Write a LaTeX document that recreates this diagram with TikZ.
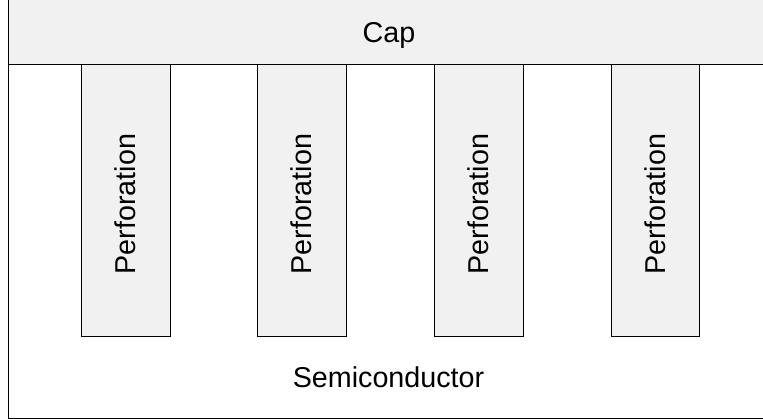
\documentclass[tikz,border=0pt]{standalone}
\usepackage{fontspec}
\setmainfont{Liberation Sans}
\definecolor{boxfill}{HTML}{F1F1F1}
\begin{document}
\begin{tikzpicture}[x=1pt,y=-1pt,
  layer/.style={draw=black,line width=1pt},
  perfbox/.style={draw=black,line width=1pt,fill=boxfill},
  lbl/.style={font=\fontsize{28.7}{34}\selectfont,inner sep=0pt}]
\useasboundingbox (0,0) rectangle (763,419);
\clip (0,0) rectangle (763,419);
% semiconductor body
\draw[layer,fill=white] (8,65) rectangle (780,418);
% cap
\draw[layer,fill=boxfill] (8,-10) rectangle (780,65);
% perforations
\foreach \i/\xa/\xb in {1/81/170,2/257/346,3/434/523,4/611/699}{
  \draw[perfbox] (\xa,65) rectangle (\xb,337);
  \node[lbl,rotate=90] (perf\i) at ({(\xa+\xb)/2},204) {Perforation};
}
\node[lbl,anchor=base] (cap) at (389,43) {Cap};
\node[lbl,anchor=base] (semi) at (388.5,388) {Semiconductor};
\end{tikzpicture}
\end{document}
